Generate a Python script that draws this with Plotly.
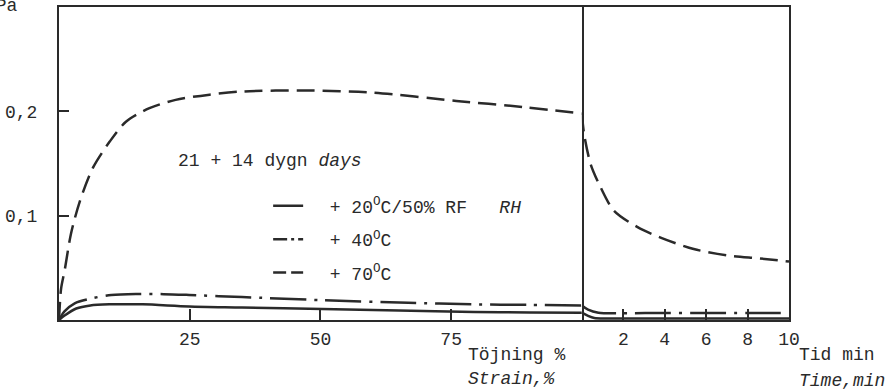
import plotly.graph_objects as go
from plotly.subplots import make_subplots

# Left panel: stress vs strain (%)
strain_20 = [0, 1, 3.3, 6, 9.7, 16, 24.9, 35, 50.3, 65, 79.4, 90, 100]
stress_20 = [0, 0.004, 0.011, 0.014, 0.015, 0.015, 0.013, 0.012, 0.0105, 0.009, 0.0076, 0.0072, 0.007]

strain_40 = [0, 1, 3, 6.5, 10, 14.7, 20, 24.9, 35, 50.3, 66.8, 79.4, 90, 100]
stress_40 = [0, 0.008, 0.016, 0.021, 0.024, 0.025, 0.0248, 0.024, 0.022, 0.019, 0.0165, 0.015, 0.0145, 0.014]

strain_70 = [0, 0.4, 1.1, 2.3, 4, 6.5, 9.7, 12.8, 17.3, 22.3, 28.8, 35, 47, 60, 76, 89, 100]
stress_70 = [0, 0.03, 0.048, 0.083, 0.114, 0.146, 0.171, 0.19, 0.203, 0.211, 0.216, 0.219, 0.220,
             0.218, 0.210, 0.204, 0.198]

# Right panel: relaxation vs time (min)
time_20 = [0, 0.3, 0.6, 1.2, 3, 6, 10]
relax_20 = [0.007, 0.004, 0.002, 0.0015, 0.0015, 0.0015, 0.0015]

time_40 = [0, 0.3, 0.8, 2, 4, 6, 8, 10]
relax_40 = [0.014, 0.010, 0.007, 0.0065, 0.0068, 0.0067, 0.0066, 0.0066]

time_70 = [0, 0.11, 0.43, 0.91, 1.54, 2.69, 3.8, 5.4, 7.0, 8.6, 10]
relax_70 = [0.198, 0.178, 0.149, 0.127, 0.105, 0.089, 0.079, 0.068, 0.062, 0.059, 0.056]

strain_ticks = [25, 50, 75]
time_ticks = [2, 4, 6, 8, 10]
y_ticks = [0.1, 0.2]
y_ticktext = ["0,1", "0,2"]

NBSP = "\u00a0"
names = [
    NBSP * 2 + "+ 20<sup>O</sup>C/50% RF" + NBSP * 3 + "<i>RH</i>",
    NBSP * 2 + "+ 40<sup>O</sup>C",
    NBSP * 2 + "+ 70<sup>O</sup>C",
]
dashes = ["solid", "36px,8px,3px,8px", "18px,8px"]
legend_dashes = ["solid", "14px,4px,3px,4px", "13px,5px"]

INK = "#2a2a2a"
FONT = "Liberation Mono"

fig = make_subplots(rows=1, cols=2, shared_yaxes=True, horizontal_spacing=0,
                    column_widths=[525, 208])

left = [(strain_20, stress_20), (strain_40, stress_40), (strain_70, stress_70)]
right = [(time_20, relax_20), (time_40, relax_40), (time_70, relax_70)]

for i, ((xl, yl), (xr, yr)) in enumerate(zip(left, right)):
    style = dict(color=INK, width=2.5, dash=dashes[i], shape="spline", smoothing=0.8)
    fig.add_trace(go.Scatter(x=xl, y=yl, mode="lines", name=names[i], legendgroup=f"g{i}",
                             showlegend=False, line=style), row=1, col=1)
    fig.add_trace(go.Scatter(x=xr, y=yr, mode="lines", name=names[i], legendgroup=f"g{i}",
                             showlegend=False, line=style), row=1, col=2)
    # legend key with a compact dash pattern
    fig.add_trace(go.Scatter(x=[None], y=[None], mode="lines", name=names[i],
                             legendgroup=f"g{i}",
                             line=dict(color=INK, width=2.5, dash=legend_dashes[i])),
                  row=1, col=1)

axis_common = dict(showline=True, linewidth=2, linecolor=INK,
                   showgrid=False, zeroline=False, ticks="inside", tickwidth=2,
                   tickcolor=INK, tickfont=dict(family=FONT, size=18, color=INK))

fig.update_xaxes(range=[0, 100], tickvals=strain_ticks, ticklen=11, mirror=True,
                 ticklabelstandoff=1, **axis_common, row=1, col=1)
fig.update_xaxes(range=[0, 10], tickvals=time_ticks, ticklen=11, mirror=True,
                 ticklabelstandoff=1, **axis_common, row=1, col=2)
fig.update_yaxes(range=[0, 0.3], tickvals=y_ticks, ticktext=y_ticktext, ticklen=10,
                 mirror=True, ticklabelstandoff=16, **axis_common, row=1, col=1)
fig.update_yaxes(range=[0, 0.3], side="right", showline=True, linewidth=2, linecolor=INK,
                 mirror=False, showgrid=False, zeroline=False, ticks="",
                 showticklabels=False, row=1, col=2)


def ann(text, x, y, italic=False, xanchor="left", yanchor="middle"):
    fig.add_annotation(
        text=f"<i>{text}</i>" if italic else text,
        xref="paper", yref="paper", x=x, y=y, xanchor=xanchor, yanchor=yanchor,
        showarrow=False, font=dict(family=FONT, size=18, color=INK),
    )


ann("Töjning %", 0.558, -0.112)
ann("Strain,%", 0.558, -0.187, italic=True)
ann("Tid min", 1.011, -0.112)
ann("Time,min", 1.011, -0.194, italic=True)
ann("21 + 14 dygn <i>days</i>", 0.1596, 0.508)
ann("MPa", -0.0532, 1.003, xanchor="right")

fig.update_layout(
    width=896, height=392,
    margin=dict(l=56, r=107, t=5, b=72),
    plot_bgcolor="white", paper_bgcolor="white",
    showlegend=True,
    legend=dict(x=0.2865, y=0.423, xanchor="left", yanchor="top",
                bgcolor="rgba(0,0,0,0)", tracegroupgap=7,
                font=dict(family=FONT, size=18, color=INK)),
)

fig.write_html("out.html", config={"displayModeBar": False},
               post_script="document.body.style.margin='0';")
